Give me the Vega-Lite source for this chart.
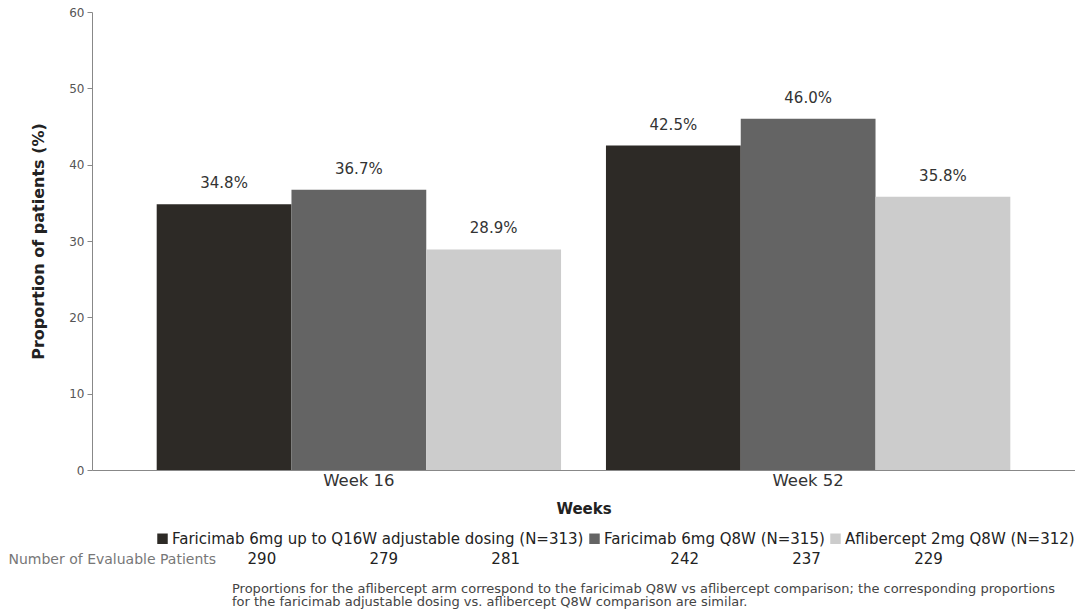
{
  "$schema": "https://vega.github.io/schema/vega-lite/v6.json",
  "background": "white",
  "padding": {"left": 8, "top": 6, "right": 0, "bottom": 4},
  "config": {
    "font": "DejaVu Sans",
    "view": {"stroke": null},
    "legend": {"layout": {"bottom": {"anchor": "end"}}}
  },
  "datasets": {
    "rates": [
      {"week": "Week 16", "arm": "Faricimab 6mg up to Q16W adjustable dosing (N=313)", "value": 34.8, "label": "34.8%"},
      {"week": "Week 16", "arm": "Faricimab 6mg Q8W (N=315)", "value": 36.7, "label": "36.7%"},
      {"week": "Week 16", "arm": "Aflibercept 2mg Q8W (N=312)", "value": 28.9, "label": "28.9%"},
      {"week": "Week 52", "arm": "Faricimab 6mg up to Q16W adjustable dosing (N=313)", "value": 42.5, "label": "42.5%"},
      {"week": "Week 52", "arm": "Faricimab 6mg Q8W (N=315)", "value": 46.0, "label": "46.0%"},
      {"week": "Week 52", "arm": "Aflibercept 2mg Q8W (N=312)", "value": 35.8, "label": "35.8%"}
    ],
    "evaluable": [
      {"row": "Number of Evaluable Patients", "week": "Week 16", "arm": "Faricimab 6mg up to Q16W adjustable dosing (N=313)", "n": 290},
      {"row": "Number of Evaluable Patients", "week": "Week 16", "arm": "Faricimab 6mg Q8W (N=315)", "n": 279},
      {"row": "Number of Evaluable Patients", "week": "Week 16", "arm": "Aflibercept 2mg Q8W (N=312)", "n": 281},
      {"row": "Number of Evaluable Patients", "week": "Week 52", "arm": "Faricimab 6mg up to Q16W adjustable dosing (N=313)", "n": 242},
      {"row": "Number of Evaluable Patients", "week": "Week 52", "arm": "Faricimab 6mg Q8W (N=315)", "n": 237},
      {"row": "Number of Evaluable Patients", "week": "Week 52", "arm": "Aflibercept 2mg Q8W (N=312)", "n": 229}
    ]
  },
  "title": {
    "text": [
      "Proportions for the aflibercept arm correspond to the faricimab Q8W vs aflibercept comparison; the corresponding proportions",
      "for the faricimab adjustable dosing vs. aflibercept Q8W comparison are similar."
    ],
    "orient": "bottom",
    "anchor": "start",
    "align": "left",
    "dx": 224,
    "fontSize": 13,
    "fontWeight": "normal",
    "color": "#444444",
    "lineHeight": 13,
    "offset": 14
  },
  "spacing": 2,
  "resolve": {"scale": {"color": "independent", "xOffset": "independent"}},
  "vconcat": [
    {
      "width": 983,
      "height": 458,
      "data": {"name": "rates"},
      "encoding": {
        "x": {
          "field": "week",
          "type": "nominal",
          "sort": ["Week 16", "Week 52"],
          "scale": {"type": "band", "paddingInner": 0.1, "paddingOuter": 0.144},
          "title": "Weeks",
          "axis": {
            "labelAngle": 0,
            "ticks": false,
            "domainColor": "#888888",
            "labelFontSize": 16.5,
            "labelColor": "#333333",
            "labelPadding": 2,
            "titleFontSize": 15,
            "titleFontWeight": "bold",
            "titleColor": "#222222",
            "titlePadding": 13
          }
        },
        "xOffset": {
          "field": "arm",
          "type": "nominal",
          "sort": ["Faricimab 6mg up to Q16W adjustable dosing (N=313)", "Faricimab 6mg Q8W (N=315)", "Aflibercept 2mg Q8W (N=312)"],
          "scale": {"type": "band", "paddingInner": 0, "paddingOuter": 0}
        },
        "y": {
          "field": "value",
          "type": "quantitative",
          "scale": {"domain": [0, 60]},
          "title": "Proportion of patients (%)",
          "axis": {
            "values": [0, 10, 20, 30, 40, 50, 60],
            "grid": false,
            "domainColor": "#888888",
            "tickColor": "#888888",
            "tickSize": 5,
            "labelFontSize": 12,
            "labelColor": "#555555",
            "labelPadding": 3,
            "titleFontSize": 16,
            "titleFontWeight": "bold",
            "titleColor": "#222222",
            "titlePadding": 22
          }
        }
      },
      "layer": [
        {
          "mark": {"type": "bar"},
          "encoding": {
            "color": {
              "field": "arm",
              "type": "nominal",
              "sort": ["Faricimab 6mg up to Q16W adjustable dosing (N=313)", "Faricimab 6mg Q8W (N=315)", "Aflibercept 2mg Q8W (N=312)"],
              "scale": {
                "domain": ["Faricimab 6mg up to Q16W adjustable dosing (N=313)", "Faricimab 6mg Q8W (N=315)", "Aflibercept 2mg Q8W (N=312)"],
                "range": ["#2d2a26", "#646464", "#cccccc"]
              },
              "legend": {
                "title": null,
                "orient": "bottom",
                "direction": "horizontal",
                "symbolType": "square",
                "symbolSize": 110,
                "symbolStrokeWidth": 0,
                "labelFontSize": 15,
                "labelColor": "#222222",
                "labelLimit": 700,
                "labelOffset": 2,
                "columnPadding": 3,
                "padding": 0,
                "offset": 14
              }
            }
          }
        },
        {
          "mark": {"type": "text", "dy": -21, "fontSize": 15, "color": "#333333"},
          "encoding": {"text": {"field": "label", "type": "nominal"}}
        }
      ]
    },
    {
      "width": 983,
      "height": 20,
      "data": {"name": "evaluable"},
      "mark": {"type": "text", "fontSize": 15, "color": "#222222"},
      "encoding": {
        "x": {
          "field": "week",
          "type": "nominal",
          "sort": ["Week 16", "Week 52"],
          "scale": {"type": "band", "paddingInner": 0.135, "paddingOuter": 0.23, "align": 0.56},
          "axis": null
        },
        "xOffset": {
          "field": "arm",
          "type": "nominal",
          "sort": ["Faricimab 6mg up to Q16W adjustable dosing (N=313)", "Faricimab 6mg Q8W (N=315)", "Aflibercept 2mg Q8W (N=312)"],
          "scale": {"type": "band", "paddingInner": 0, "paddingOuter": 0}
        },
        "y": {
          "field": "row",
          "type": "nominal",
          "axis": {
            "title": null,
            "domain": false,
            "ticks": false,
            "labelAlign": "left",
            "labelPadding": 84,
            "labelFontSize": 14,
            "labelColor": "#777777",
            "labelLimit": 400
          }
        },
        "text": {"field": "n", "type": "quantitative"}
      }
    }
  ]
}
